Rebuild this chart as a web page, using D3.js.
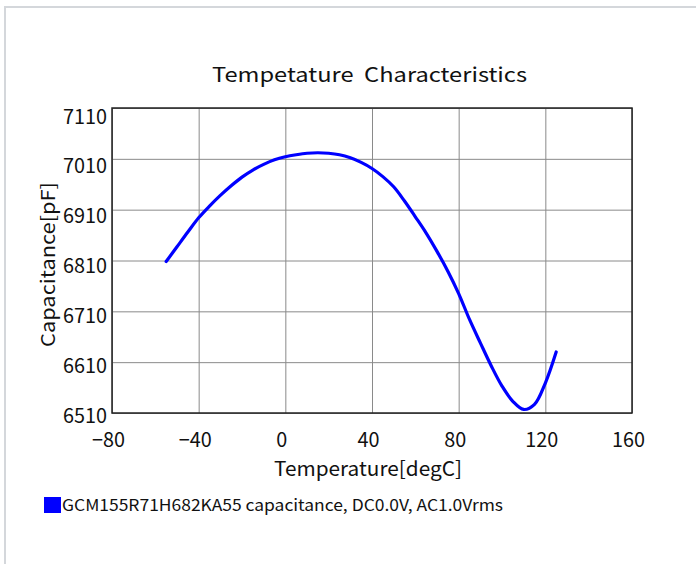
<!DOCTYPE html>
<html>
<head>
<meta charset="utf-8">
<script src="https://cdn.jsdelivr.net/npm/d3@7"></script>
<style>
  html, body { margin: 0; padding: 0; background: #fff; }
  svg { display: block; }
  text { font-family: "Noto Sans CJK JP", "Noto Sans", sans-serif; fill: #111; }
</style>
</head>
<body>
<svg id="chart" width="696" height="564"></svg>
<script>
// temperature sweep [degC] and measured capacitance [pF]
const temps = [-55, -50, -45, -40, -35, -30, -25, -20, -15, -10, -5, 0, 5, 10, 15, 20, 25, 30,
  35, 40, 45, 50, 55, 60, 65, 70, 75, 80, 85, 90, 95, 100, 105, 110, 115, 120, 125];
const caps = [6808, 6837, 6866, 6894, 6917, 6938, 6957, 6974, 6988, 6999, 7008, 7014, 7018, 7021,
  7022, 7021, 7018, 7012, 7003, 6991, 6975, 6955, 6927, 6896, 6864, 6828, 6789, 6745, 6694,
  6648, 6603, 6563, 6533, 6517, 6527, 6569, 6630];

const xTicks = [-80, -40, 0, 40, 80, 120, 160];
const yTicks = [6510, 6610, 6710, 6810, 6910, 7010, 7110];

const titleText = 'Tempetature\u00a0\u00a0Characteristics';
const xTitle = 'Temperature[degC]';
const yTitle = 'Capacitance[pF]';
const legendText = 'GCM155R71H682KA55 capacitance, DC0.0V, AC1.0Vrms';

const svg = d3.select('#chart');
const plot = { left: 112, right: 632, top: 108, bottom: 413 };
const charW = 11; // tick labels are set in a fixed-width face

// page frame (only top and left edges show)
svg.append('path')
  .attr('d', 'M5,564V7H696')
  .attr('fill', 'none')
  .attr('stroke', '#d4d7db')
  .attr('stroke-width', 2);

const x = d3.scaleLinear().domain([-80, 160]).range([plot.left, plot.right]);
const y = d3.scaleLinear().domain([6510, 7110]).range([plot.bottom, plot.top]);
// the tick labels sit on a slightly tighter spacing than the grid
const yLab = d3.scaleLinear().domain([6510, 7110]).range([416, 116.7]);

// grid
svg.append('g')
  .attr('transform', `translate(0,${plot.bottom})`)
  .call(d3.axisBottom(x).tickValues(xTicks).tickSize(-(plot.bottom - plot.top)).tickFormat(''))
  .call(g => g.select('.domain').remove())
  .call(g => g.selectAll('line').attr('stroke', '#8a8a8a').attr('stroke-width', 1));
svg.append('g')
  .attr('transform', `translate(${plot.left},0)`)
  .call(d3.axisLeft(y).tickValues(yTicks).tickSize(-(plot.right - plot.left)).tickFormat(''))
  .call(g => g.select('.domain').remove())
  .call(g => g.selectAll('line').attr('stroke', '#8a8a8a').attr('stroke-width', 1));

// frame of the plot area
svg.append('rect')
  .attr('x', plot.left).attr('y', plot.top)
  .attr('width', plot.right - plot.left).attr('height', plot.bottom - plot.top)
  .attr('fill', 'none').attr('stroke', '#222').attr('stroke-width', 1.5);

// tick labels
function styleTicks (g) {
  g.select('.domain').remove();
  g.selectAll('text')
    .attr('font-size', 20).attr('fill', '#111')
    .attr('font-family', '"Noto Sans CJK JP", sans-serif')
    .attr('lengthAdjust', 'spacingAndGlyphs')
    .attr('textLength', function () { return this.textContent.length * charW; });
}

svg.append('g')
  .attr('transform', `translate(-4,${plot.bottom})`)
  .call(d3.axisBottom(x).tickValues(xTicks).tickSize(0))
  .call(styleTicks)
  .call(g => g.selectAll('text').attr('y', 34).attr('dy', null));

svg.append('g')
  .attr('transform', 'translate(107,0)')
  .call(d3.axisLeft(yLab).tickValues(yTicks).tickSize(0).tickPadding(0).tickFormat(d3.format('d')))
  .call(styleTicks);

// curve
const line = d3.line()
  .x((d, i) => x(temps[i]))
  .y(d => y(d))
  .curve(d3.curveCatmullRom);
svg.append('path')
  .datum(caps)
  .attr('d', line)
  .attr('fill', 'none')
  .attr('stroke', '#0000ff')
  .attr('stroke-width', 3.2)
  .attr('stroke-linecap', 'round');

// titles
svg.append('text')
  .attr('x', 212).attr('y', 82)
  .attr('font-size', 20)
  .attr('textLength', 315).attr('lengthAdjust', 'spacingAndGlyphs')
  .text(titleText);

svg.append('text')
  .attr('x', 274).attr('y', 476)
  .attr('font-size', 20)
  .attr('textLength', 188).attr('lengthAdjust', 'spacingAndGlyphs')
  .text(xTitle);

svg.append('text')
  .attr('transform', 'translate(55,347) rotate(-90)')
  .attr('font-size', 19)
  .attr('textLength', 165).attr('lengthAdjust', 'spacingAndGlyphs')
  .text(yTitle);

// legend
svg.append('rect')
  .attr('x', 44).attr('y', 497).attr('width', 17).attr('height', 16)
  .attr('fill', '#0000ff');
svg.append('text')
  .attr('x', 62).attr('y', 511)
  .attr('font-size', 16)
  .attr('textLength', 441).attr('lengthAdjust', 'spacingAndGlyphs')
  .text(legendText);
</script>
</body>
</html>
